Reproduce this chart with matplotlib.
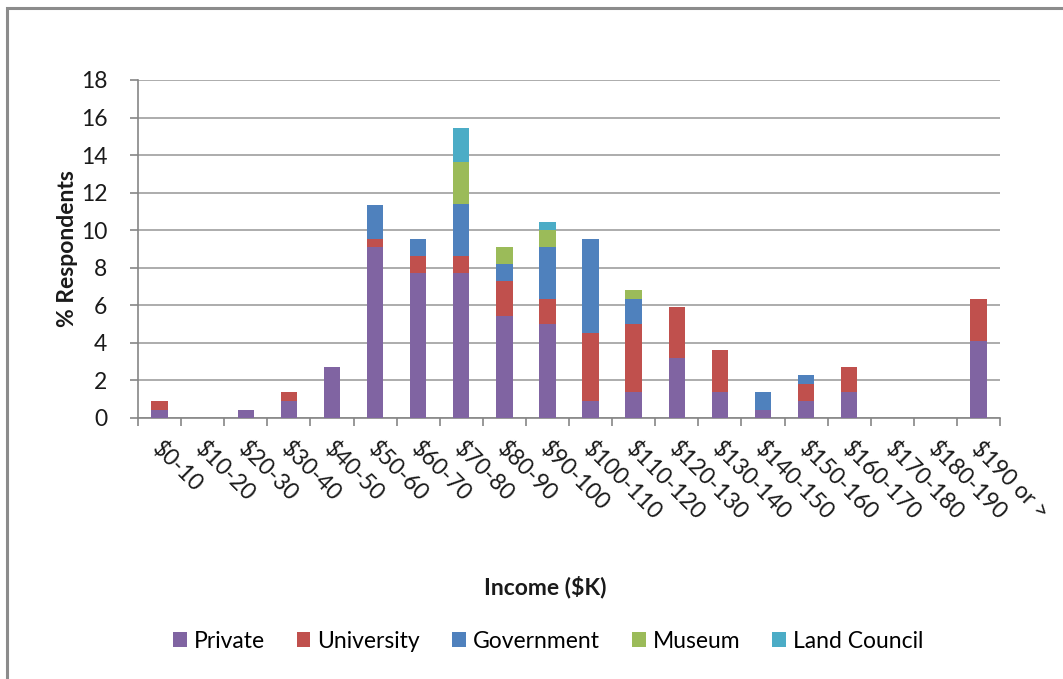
import numpy as np
import matplotlib
matplotlib.use('Agg')
import matplotlib.pyplot as plt
from matplotlib.patches import Rectangle, Patch
from matplotlib.transforms import ScaledTranslation

plt.rcParams['font.family'] = ['Lato', 'DejaVu Sans']

# Income bands ($K) and share of respondents (%) per employment sector
income_bands = ['$0-10', '$10-20', '$20-30', '$30-40', '$40-50', '$50-60',
                '$60-70', '$70-80', '$80-90', '$90-100', '$100-110',
                '$110-120', '$120-130', '$130-140', '$140-150', '$150-160',
                '$160-170', '$170-180', '$180-190', '$190 or >']

private = [0.45, 0, 0.45, 0.91, 2.73, 9.09, 7.73, 7.73, 5.45, 5.00,
           0.91, 1.36, 3.18, 1.36, 0.45, 0.91, 1.36, 0, 0, 4.09]
university = [0.45, 0, 0, 0.45, 0, 0.45, 0.91, 0.91, 1.82, 1.36,
              3.64, 3.64, 2.73, 2.27, 0, 0.91, 1.36, 0, 0, 2.27]
government = [0, 0, 0, 0, 0, 1.82, 0.91, 2.73, 0.91, 2.73,
              5.00, 1.36, 0, 0, 0.91, 0.45, 0, 0, 0, 0]
museum = [0, 0, 0, 0, 0, 0, 0, 2.27, 0.91, 0.91,
          0, 0.45, 0, 0, 0, 0, 0, 0, 0, 0]
land_council = [0, 0, 0, 0, 0, 0, 0, 1.82, 0, 0.45,
                0, 0, 0, 0, 0, 0, 0, 0, 0, 0]

series = [
    ('Private', private, '#8064A2'),
    ('University', university, '#C0504D'),
    ('Government', government, '#4F81BD'),
    ('Museum', museum, '#9BBB59'),
    ('Land Council', land_council, '#4BACC6'),
]

FS = 16.5
W, H = 1063, 679
fig = plt.figure(figsize=(W / 100, H / 100), dpi=100)
fig.patch.set_facecolor('white')

# outer chart frame (runs off the right and bottom edges)
fig.patches.append(Rectangle((7 / W, -0.05), 1.1, 1 - 8 / H + 0.05,
                             transform=fig.transFigure, fill=False,
                             edgecolor='#8c8c8c', linewidth=2.2))

ax = fig.add_axes([138 / W, 1 - 418 / H, (1000 - 138) / W, (418 - 80) / H])

x = np.arange(len(income_bands)) + 0.5
bottom = np.zeros(len(income_bands))
for name, vals, color in series:
    vals = np.array(vals)
    ax.bar(x, vals, width=0.38, bottom=bottom, color=color, label=name,
           zorder=3, linewidth=0)
    bottom += vals

ax.set_xlim(0, len(income_bands))
ax.set_ylim(0, 18)
ax.set_yticks(np.arange(0, 19, 2))
ax.yaxis.grid(True, color='#a6a6a6', linewidth=1.3, zorder=0)

for side in ['top', 'right']:
    ax.spines[side].set_visible(False)
for side in ['left', 'bottom']:
    ax.spines[side].set_color('#868686')
    ax.spines[side].set_linewidth(1.2)

ax.set_xticks(np.arange(len(income_bands) + 1))
ax.set_xticklabels([])
ax.set_xticks(x, minor=True)
ax.set_xticklabels(income_bands, minor=True, rotation=-45,
                   rotation_mode='anchor', ha='left', va='center',
                   fontsize=FS, color='#1a1a1a')
ax.tick_params(axis='x', which='major', length=6, color='#868686', width=1.2)
ax.tick_params(axis='x', which='minor', length=0, pad=20)
ax.tick_params(axis='y', length=6, color='#868686', width=1.2,
               labelsize=FS, labelcolor='#1a1a1a', pad=16)

# nudge the slanted labels slightly left of the band centre
shift = ScaledTranslation(-4 / 100, 0, fig.dpi_scale_trans)
for lbl in ax.get_xticklabels(minor=True):
    lbl.set_transform(lbl.get_transform() + shift)

fig.text(545 / W, 1 - 587 / H, 'Income ($K)', ha='center', va='center',
         fontsize=FS, fontweight='bold', color='#1a1a1a')
fig.text(68 / W, 1 - 249 / H, '% Respondents', ha='center', va='center',
         rotation=90, fontsize=FS, fontweight='bold', color='#1a1a1a')

handles = [Patch(facecolor=c, edgecolor='none') for _, _, c in series]
fig.legend(handles, [n for n, _, _ in series], loc='center',
           bbox_to_anchor=(548 / W, 1 - 641 / H), ncol=5, frameon=False,
           fontsize=FS, handlelength=0.6, handleheight=0.6,
           handletextpad=0.3, columnspacing=1.4)

plt.savefig('out.png', dpi=100)
